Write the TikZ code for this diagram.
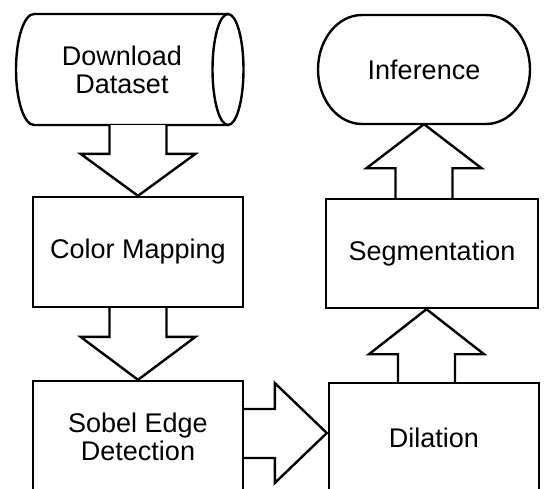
\documentclass[tikz,border=0pt]{standalone}
\usepackage{fontspec}
\setmainfont{Liberation Sans}
\usetikzlibrary{calc}
\begin{document}
\begin{tikzpicture}[x=1pt,y=-1pt,line join=miter,
  lw/.style={line width=2.4pt},
  txt/.style={align=center,inner sep=0pt,font=\fontsize{27}{28}\selectfont},
  boxstyle/.style={txt,draw,lw,minimum width=210pt,minimum height=110pt},
  blockarrow/.style={draw,lw,fill=white}]
\useasboundingbox (0,0) rectangle (544,488);
\clip (0,0) rectangle (544,488);
% Download Dataset (horizontal cylinder)
\node[txt,minimum width=212pt,minimum height=111pt] (dl) at (122,69.5) {Download\\Dataset};
\draw[lw] (228,14) -- (34,14) arc[start angle=90,end angle=270,x radius=18pt,y radius=55.5pt] -- (228,125);
\draw[lw] (228,69.5) ellipse[x radius=15.5pt,y radius=55.5pt];
% boxes
\node[boxstyle] (cm) at (138,252) {Color Mapping};
\node[boxstyle,minimum height=112pt] (sobel) at (138,437) {Sobel Edge\\Detection};
\node[boxstyle] (dil) at (434,438) {Dilation};
\node[boxstyle,minimum width=212pt,minimum height=109pt] (seg) at (432,253.5) {Segmentation};
% Inference (stadium)
\node[txt,minimum width=212pt,minimum height=109pt] (inf) at (424,69.5) {Inference};
\draw[lw] (362,15) -- (486,15) arc[start angle=90,end angle=-90,x radius=44pt,y radius=54.5pt]
  -- (362,124) arc[start angle=270,end angle=90,x radius=44pt,y radius=54.5pt] -- cycle;
% block arrows
\draw[blockarrow] let \p1=(cm.north |- dl.south), \p2=(cm.north) in
  (\x1-28.5pt,\y1) -- (\x1-28.5pt,\y2+42pt) -- (\x1-57.5pt,\y2+42pt) -- (\p2)
  -- (\x1+57.5pt,\y2+42pt) -- (\x1+28.5pt,\y2+42pt) -- (\x1+28.5pt,\y1);
\draw[blockarrow] let \p1=(cm.south), \p2=(sobel.north) in
  (\x1-28.5pt,\y1) -- (\x1-28.5pt,\y2+43pt) -- (\x1-57.5pt,\y2+43pt) -- (\p2)
  -- (\x1+57.5pt,\y2+43pt) -- (\x1+28.5pt,\y2+43pt) -- (\x1+28.5pt,\y1);
\draw[blockarrow] let \p1=($(sobel.east)+(0,-3.5)$), \p2=($(dil.west)+(-1,-5)$) in
  (\x1,\y1+24.5pt) -- (\x2-52pt,\y1+24.5pt) -- (\x2-52pt,\y2+50pt) -- (\p2)
  -- (\x2-52pt,\y2-50pt) -- (\x2-52pt,\y1-24.5pt) -- (\x1,\y1-24.5pt);
\draw[blockarrow] let \p1=($(dil.north)+(-7.5,0)$), \p2=($(seg.south)+(-5.5,0)$) in
  (\x1-28.5pt,\y1) -- (\x1-28.5pt,\y2-45pt) -- (\x1-57.5pt,\y2-45pt) -- (\p2)
  -- (\x1+57.5pt,\y2-45pt) -- (\x1+28.5pt,\y2-45pt) -- (\x1+28.5pt,\y1);
\draw[blockarrow] let \p1=(inf.south |- seg.north), \p2=(inf.south) in
  (\x1-28.5pt,\y1) -- (\x1-28.5pt,\y2-44pt) -- (\x1-57.5pt,\y2-44pt) -- (\p2)
  -- (\x1+57.5pt,\y2-44pt) -- (\x1+28.5pt,\y2-44pt) -- (\x1+28.5pt,\y1);
\end{tikzpicture}
\end{document}
